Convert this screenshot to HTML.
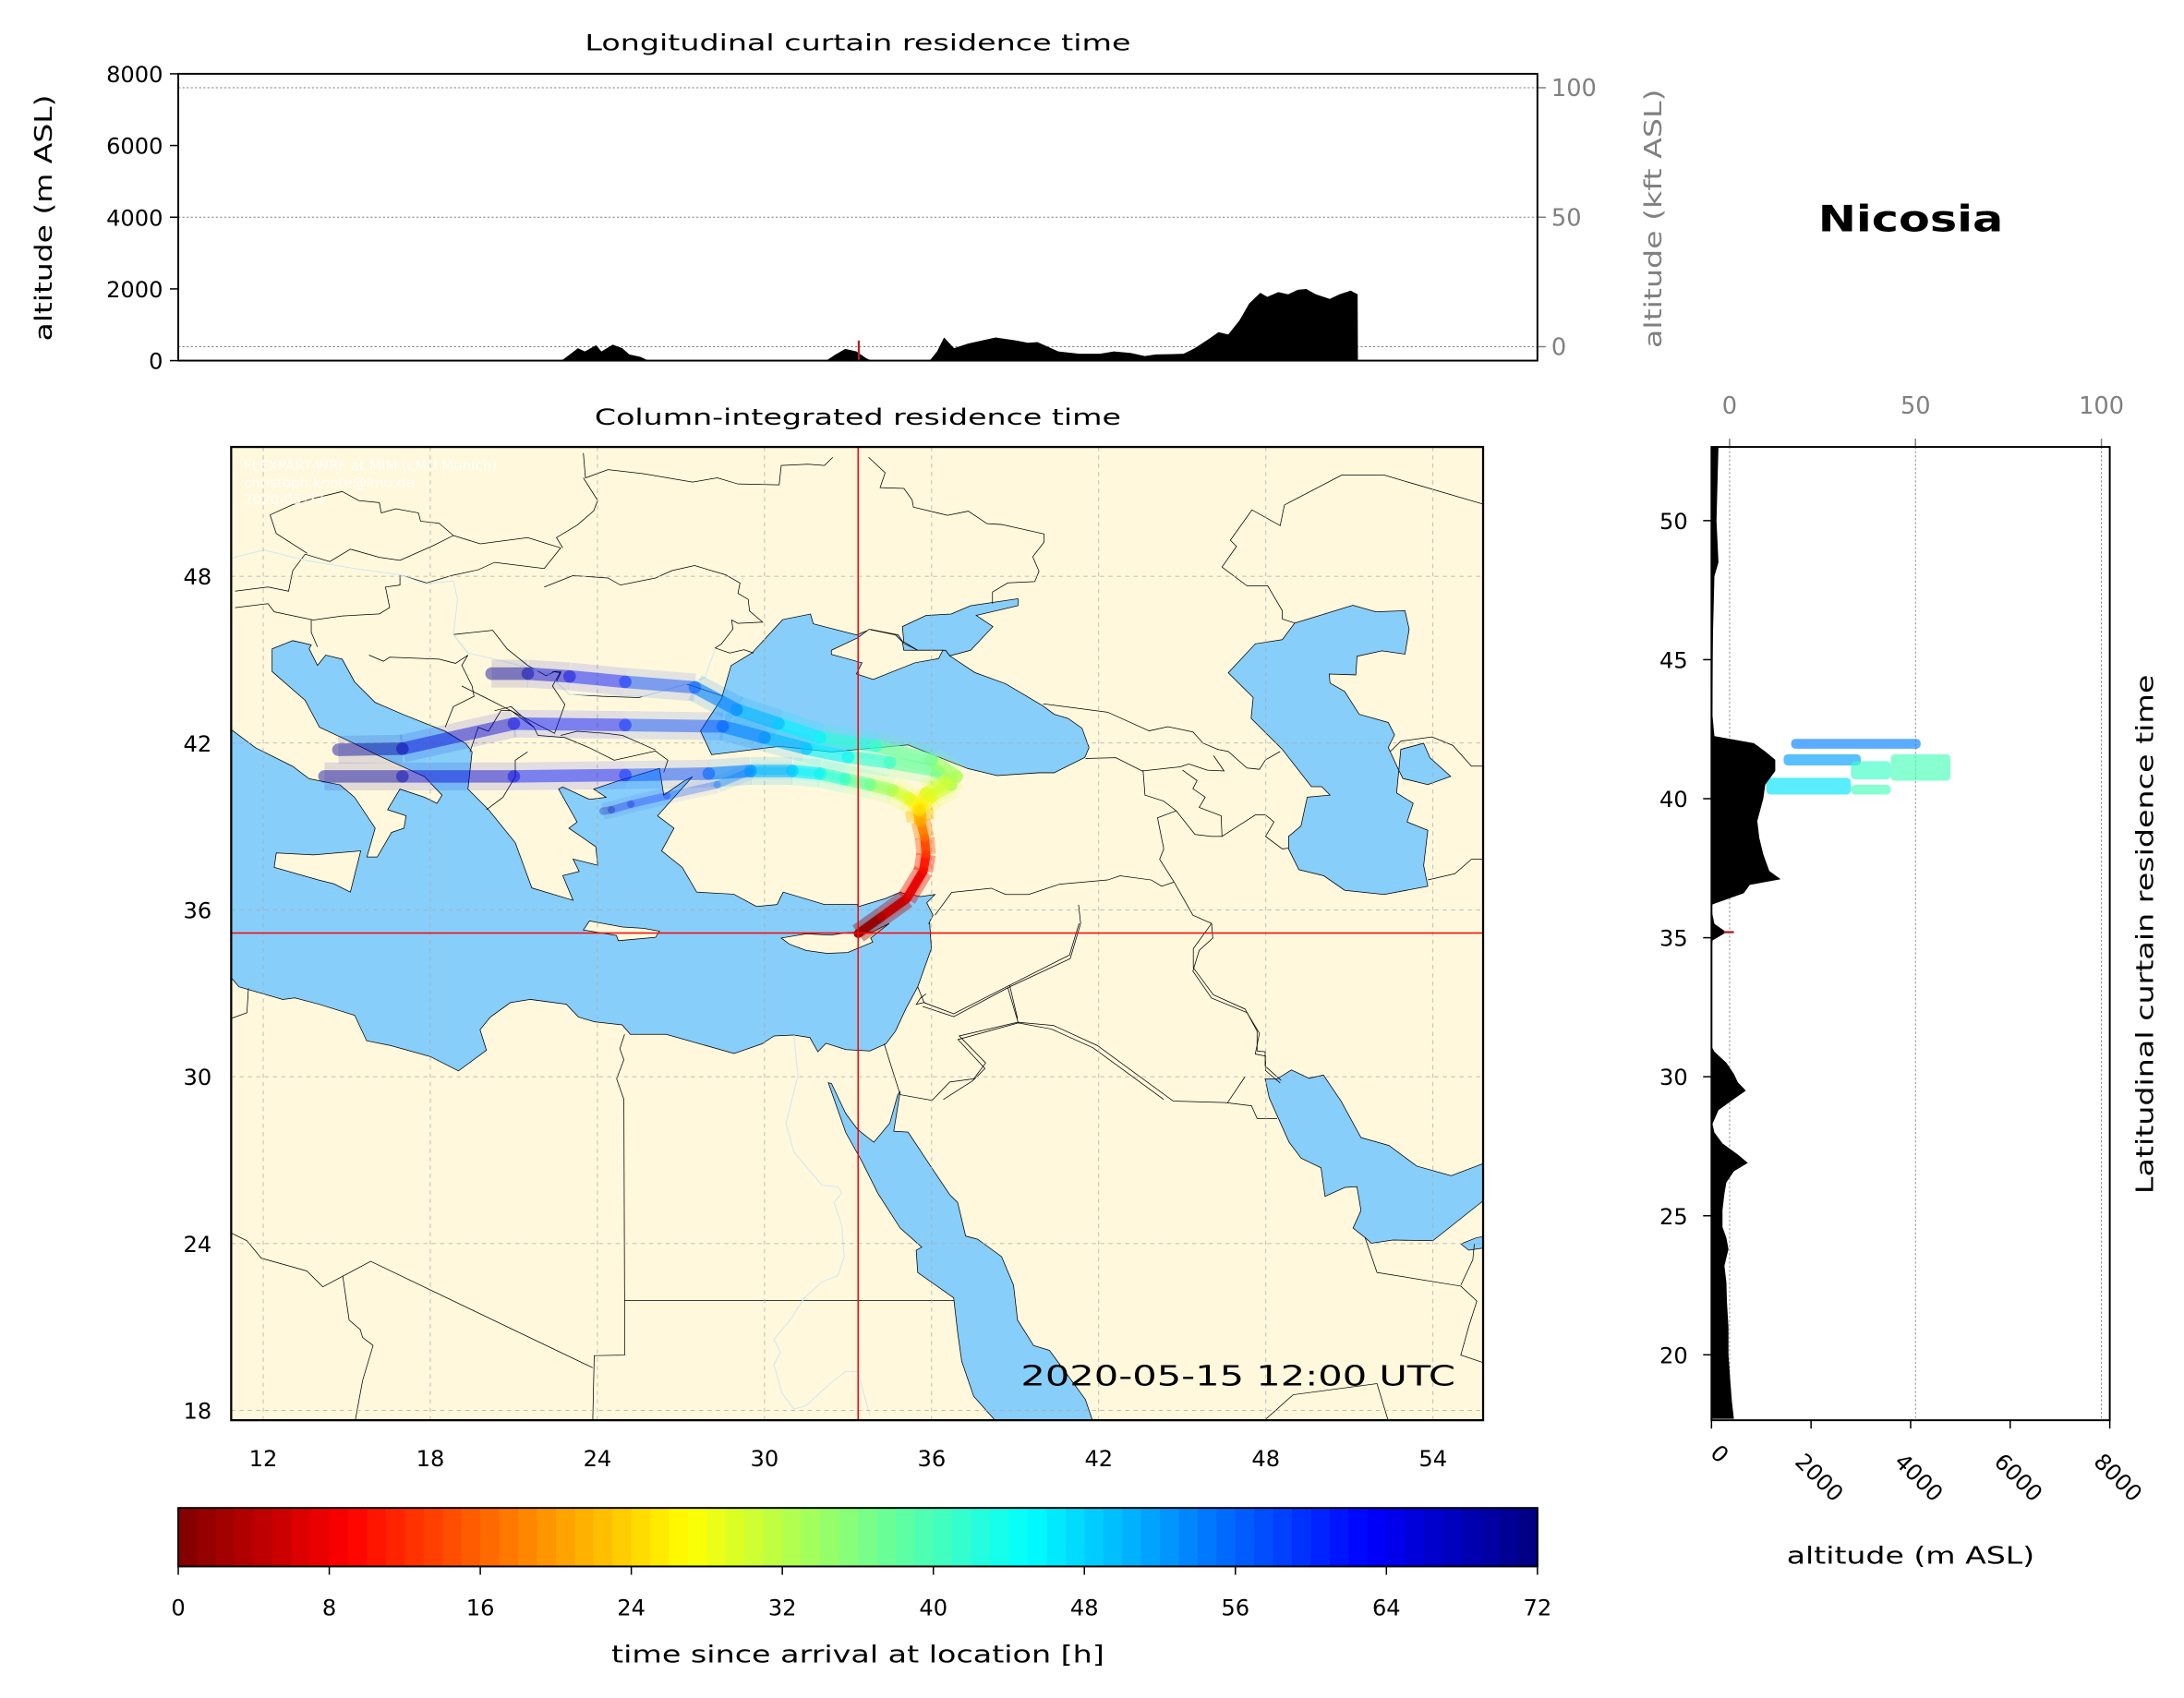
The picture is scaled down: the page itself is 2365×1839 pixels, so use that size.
<!DOCTYPE html>
<html><head><meta charset="utf-8">
<style>
html,body{margin:0;padding:0;background:#fff;}
svg{display:block;font-family:"DejaVu Sans","Liberation Sans",sans-serif;}
</style></head>
<body>
<svg id="fig" xmlns="http://www.w3.org/2000/svg" width="2365" height="1839" viewBox="0 0 1568.3 1219.5">
<defs>
<clipPath id="mapclip"><rect x="166" y="321" width="899" height="699"/></clipPath>
<clipPath id="rpclip"><rect x="1229" y="321" width="286" height="699"/></clipPath>
<clipPath id="topclip"><rect x="128" y="53" width="976" height="206"/></clipPath>
</defs>
<rect x="0" y="0" width="1568.3" height="1219.5" fill="#fff"/>
<text x="616" y="36" font-size="16" text-anchor="middle" textLength="392" lengthAdjust="spacingAndGlyphs">Longitudinal curtain residence time</text>
<text x="616" y="305" font-size="16" text-anchor="middle" textLength="378" lengthAdjust="spacingAndGlyphs">Column-integrated residence time</text>
<text x="1372" y="166" font-size="26" font-weight="bold" text-anchor="middle" textLength="133" lengthAdjust="spacingAndGlyphs">Nicosia</text>
<text transform="translate(37,156.5) rotate(-90)" font-size="17" text-anchor="middle" textLength="177" lengthAdjust="spacingAndGlyphs">altitude (m ASL)</text>
<text transform="translate(1193,157) rotate(-90)" font-size="17" fill="#808080" text-anchor="middle" textLength="186" lengthAdjust="spacingAndGlyphs">altitude (kft ASL)</text>
<text transform="translate(1546,671) rotate(-90)" font-size="17" text-anchor="middle" textLength="373" lengthAdjust="spacingAndGlyphs">Latitudinal curtain residence time</text>
<text x="1372" y="1123" font-size="17" text-anchor="middle" textLength="178" lengthAdjust="spacingAndGlyphs">altitude (m ASL)</text>
<text x="616" y="1194" font-size="17" text-anchor="middle" textLength="354" lengthAdjust="spacingAndGlyphs">time since arrival at location [h]</text>
<g id="topPanel"></g>
<g id="mapPanel"></g>
<g id="rpPanel"></g>
<g id="cbPanel"></g>
</svg>
<script>
// ---------- data ----------
const lonTicks=[12,18,24,30,36,42,48,54];
const latTicks=[18,24,30,36,42,48];
const altTicks=[0,2000,4000,6000,8000];
const kftTicks=[0,50,100];
const rpLatTicks=[20,25,30,35,40,45,50];
const cbTicks=[0,8,16,24,32,40,48,56,64,72];
const stationLon=33.36;
const stationLat=35.17;
const topLon=[10.85,23.5,23.6,24.07,24.3,24.67,24.85,25.22,25.54,25.77,26.14,26.37,32.2,32.31,32.59,32.91,33.28,33.6,33.74,35.6,35.72,35.95,36.18,36.51,36.97,37.89,38.58,38.95,39.27,39.96,40.65,41.34,41.8,42.35,42.82,43.18,44.1,44.47,44.93,45.26,45.58,45.95,46.27,46.64,46.87,47.24,47.56,47.88,48.16,48.48,48.94,49.26,49.63,49.86,49.87,55.8];
const topAlt=[0,0,43,344,258,430,258,447,344,172,103,17,0,17,172,327,258,69,17,0,17,258,645,344,473,645,559,499,516,258,189,189,258,215,129,172,189,344,602,791,731,1118,1591,1892,1780,1909,1849,1978,1995,1849,1720,1849,1952,1849,0,0];
const rpLat=[52.65,50,48.5,48,46,45,43,42.25,42.0,41.7,41.4,41.0,40.5,40.0,39.2,38.6,38.0,37.4,37.1,36.9,36.6,36.2,36.0,35.5,35.2,34.9,34.5,31.1,30.9,30.5,30.1,29.8,29.5,29.2,28.8,28.3,28.0,27.6,27.2,26.9,26.6,26.2,25.8,25.2,24.6,24.2,23.8,23.2,22.6,21.9,21,20,19,18.3,17.7];
const rpAlt=[140,100,140,60,30,25,20,60,850,1080,1280,1280,1080,1040,920,960,1040,1160,1390,770,650,20,0,60,300,20,0,0,60,300,450,530,690,450,140,20,60,220,530,730,450,300,260,220,220,300,340,260,300,310,340,340,380,410,450];
const curtLatLo=[41.8,41.2,40.65,40.7,40.15,40.15];
const curtLatHi=[42.15,41.6,41.6,41.35,40.75,40.5];
const curtAltLo=[1600,1450,3600,2800,1100,2800];
const curtAltHi=[4200,3000,4800,3600,2800,3600];
const curtTime=[54,52,40,41,47,40];
const trajTime=[0,3,6,9,12,16,20,24,28,32,36,40,44,48,52,56,60,64,68,72];
const traj1Lon=[33.36,34.2,35.1,35.7,35.8,35.75,35.6,35.55,35.2,34.6,33.8,32.9,32.0,31.0,29.5,28.0,25.0,21.0,17.0,14.2];
const traj1Lat=[35.15,35.75,36.4,37.4,38.0,38.6,39.2,39.6,40.0,40.3,40.5,40.7,40.9,41.0,41.0,40.9,40.85,40.8,40.8,40.8];
const traj2Lon=[33.36,34.2,35.1,35.7,35.8,35.75,35.6,35.55,36.0,36.7,36.2,34.5,33.0,31.5,30.0,28.5,25.0,21.0,17.0,14.7];
const traj2Lat=[35.15,35.75,36.4,37.4,38.0,38.6,39.2,39.6,40.1,40.5,41.0,41.3,41.5,41.8,42.2,42.6,42.65,42.7,41.8,41.76];
const traj3Lon=[33.36,34.2,35.1,35.7,35.8,35.75,35.6,35.55,35.8,36.9,36.0,34.0,32.0,30.5,29.0,27.5,25.0,23.0,21.5,20.2];
const traj3Lat=[35.15,35.75,36.4,37.4,38.0,38.6,39.2,39.6,40.2,40.8,41.4,41.9,42.2,42.7,43.2,44.0,44.2,44.4,44.5,44.5];
const traj4Lon=[33.36,34.2,35.1,35.7,35.8,35.75,35.6,35.55,35.2,34.6,33.8,32.9,32.0,31.0,29.5,28.3,26.5,25.2,24.5,24.2];
const traj4Lat=[35.15,35.75,36.4,37.4,38.0,38.6,39.2,39.6,40.0,40.3,40.5,40.7,40.9,41.0,41.0,40.5,40.1,39.8,39.6,39.55];

// ---------- helpers ----------
const NS='http://www.w3.org/2000/svg';
function mk(tag,attrs,parent){const e=document.createElementNS(NS,tag);for(const k in attrs)e.setAttribute(k,attrs[k]);parent.appendChild(e);return e;}
function jet(v){v=Math.max(0,Math.min(1,v));const c=x=>Math.round(255*Math.max(0,Math.min(1,x)));return 'rgb('+c(1.5-Math.abs(4*v-3))+','+c(1.5-Math.abs(4*v-2))+','+c(1.5-Math.abs(4*v-1))+')';}
function timeColor(t){return jet(1-t/72);}
const mapX=lon=>166+(lon-10.85)*20;
const mapY=lat=>321+(52.65-lat)*19.97;
const topX=lon=>128+(lon-10.85)*21.71;
const topY=a=>259-a*0.02575;
const kftY=k=>249-k*1.86;
const rpX=a=>1229+a*0.03575;
const kftX=k=>1242+k*2.67;
const cbX=t=>128+t*976/72;
const FR={d:[0,0,1,1],a:[165.8,321,0.296,0.296],b:[596.8,321,0.2986,0.2976],c:[165.8,663.1,0.5735,0.228]};
function pts(pieces){let out=[];pieces.forEach(p=>{const f=FR[p[0]],a=p[1];for(let i=0;i<a.length;i+=2)out.push((f[0]+a[i]*f[2]).toFixed(1)+','+(f[1]+a[i+1]*f[3]).toFixed(1));});return out.join(' ');}
const LAND='#fff8dc',WATER='#87cefa';

const topG=document.getElementById('topPanel');
const mapG=document.getElementById('mapPanel');
const rpG=document.getElementById('rpPanel');
const cbG=document.getElementById('cbPanel');

// ---------- top panel ----------
kftTicks.forEach(k=>{
 const g=mk('line',{x1:128,x2:1104,y1:kftY(k),y2:kftY(k),stroke:'#808080','stroke-width':0.6,'stroke-dasharray':'1.5,1.5'},topG);
 
 
 const t=mk('line',{x1:1104,x2:1110,y1:kftY(k),y2:kftY(k),stroke:'#808080','stroke-width':1},topG);
 
 
 const l=mk('text',{x:1114,y:kftY(k)+6,'font-size':17,fill:'#808080'},topG);
 l.textContent=k;
 
 
});
let d='M'+topX(topLon[0])+','+topY(0);
for(let i=0;i<topLon.length;i++)d+=' L'+topX(topLon[i]).toFixed(1)+','+topY(topAlt[i]).toFixed(1);
d+=' L'+topX(topLon[topLon.length-1])+','+topY(0)+' Z';
const tf=mk('path',{d:d,fill:'#000','clip-path':'url(#topclip)'},topG);


const tm=mk('line',{x1:topX(stationLon),x2:topX(stationLon),y1:topY(0),y2:topY(560),stroke:'#b22222','stroke-width':1.5},topG);


const tframe=mk('rect',{x:128,y:53,width:976,height:206,fill:'none',stroke:'#000','stroke-width':1.3},topG);


altTicks.forEach(v=>{
 const t=mk('line',{x1:122,x2:128,y1:topY(v),y2:topY(v),stroke:'#000','stroke-width':1},topG);
 
 
 const l=mk('text',{x:117,y:topY(v)+6,'font-size':16,'text-anchor':'end'},topG);
 l.textContent=v;
 
 
});

// ---------- map ----------
const mg=mk('g',{'clip-path':'url(#mapclip)'},mapG);


const bg=mk('rect',{x:166,y:321,width:899,height:699,fill:LAND},mg);


const seas=[
 ['mediterranean-sea',[['a',[-5,685,0,685,60,730,150,775,190,805,265,820,300,850,350,925,330,995,355,995,390,935,420,925,425,895,380,880,410,830,470,850,500,865,512,845,470,800,360,750,300,720,215,680,180,615,100,545,100,490,150,470,195,480,190,490,210,530,230,505,270,515,300,570,350,620,420,650,520,690,570,720,585,740,575,830,625,880,690,960,730,1070,830,1100,805,1040,845,1030,830,1000,890,1015,885,970,820,925,840,910,795,830,805,825,870,855,910,850,880,830,940,810,1040,780,1050,845,1100,810,1120,800,1035,895,1075,925,1045,980,1095,1020,1130,1080,1220,1085,1275,1115,1325,1110,1340,1080,1440,1110,1520,1110]],['b',[64,1110,130,1090,165,1075,215,1085,250,1080,230,1100,245,1130,235,1150]],['c',[875,0,877,80,860,200,845,270,832,340,820,380,800,402,770,398,745,378,735,405,725,360,705,352,680,355,665,380,630,410,545,350,500,350,490,320,455,310,435,295,420,255,375,240,350,250,325,295,312,335,320,400,285,465,250,420,200,385,170,370,155,290,110,255,80,235,65,240,10,200,0,170,-5,170]]]],
 ['black-sea',[['d',[518,502,525,478,540,469,562,445,582,441,584,448,615,456,625,452,645,456,649,462,659,467,679,467,682,471,700,483,722,491,749,507,757,513,767,516,777,523,782,537,779,544,757,555,746,555,716,557,695,552,652,535,597,540,560,536,511,542,503,525]]]],
 ['sea-of-azov',[['d',[648,450,665,442,683,441,697,435,731,430,731,435,701,442,713,450,697,467,682,471,679,467,659,467,649,461]]]],
 ['caspian-sea',[['b',[1115,425,1255,382,1310,398,1380,395,1390,440,1380,500,1325,492,1265,505,1262,550,1198,548,1200,570,1235,590,1270,645,1340,665,1355,695,1340,725,1365,780,1375,800,1435,815,1490,795,1440,750,1425,715,1370,730,1360,835,1400,860,1385,905,1435,925,1425,1010,1435,1060,1330,1080,1235,1070,1185,1035,1125,1020,1100,970,1100,940,1130,915,1145,845,1200,840,1180,820,1155,820,1085,730,1010,655,1015,605,955,545,1020,475,1085,465]]]],
 ['persian-gulf',[['c',[1295,490,1310,490,1328,462,1350,488,1368,478,1390,560,1415,675,1450,700,1485,765,1528,795,1575,750,1575,860,1505,1000,1455,998,1428,1008,1420,990,1405,960,1415,905,1410,830,1395,832,1370,860,1365,770,1340,740,1325,690,1300,550]]]],
 ['red-sea',[['c',[748,502,752,505,770,600,785,650,805,690,825,630,835,540,838,530,830,655,848,658,880,780,900,855,910,880,920,985,935,995,965,1050,980,1140,985,1250,1005,1330,1025,1345,1070,1500,1080,1575,960,1575,930,1490,915,1380,910,1290,905,1180,860,1100,858,1030,865,1020,838,960,810,850,790,750,770,660]]]],
 ['arabian-sea-corner',[['c',[1540,1010,1560,990,1575,985,1575,1020,1550,1030]]]]
];
seas.forEach(s=>{
 const p=mk('polygon',{points:pts(s[1]),fill:WATER,stroke:'#000','stroke-width':0.5},mg);
 
 
});
const islands=[
 ['sicily',[['a',[110,985,200,990,315,980,290,1080,250,1060,210,1050,105,1020]]]],
 ['crete',[['a',[870,1150,855,1172,935,1185,940,1198,1030,1190,1040,1175,1000,1168,950,1165]]]],
 ['cyprus',[['b',[-120,1185,-60,1175,0,1178,40,1172,100,1170,140,1150,95,1185,100,1195,40,1220,-10,1222,-60,1215,-100,1200]]]],
 ['crimea',[['d',[597,467,616,458,624,452,643,456,648,461,649,467,677,467,674,473,657,476,627,488,615,484,619,476,597,470]]]]
];
islands.forEach(s=>{
 const p=mk('polygon',{points:pts(s[1]),fill:LAND,stroke:'#000','stroke-width':0.5},mg);
 
 
});
const borders=[
 ['a',[760,340,830,312,915,318,945,335,1030,318,1070,300,1125,288,1200,310,1235,330,1230,355,1255,370,1258,398,1290,425,1230,428,1215,420,1218,442,1190,478,1175,488,1210,500,1245,492,1268,500]],
 ['a',[780,545,800,548,790,570,820,600,900,605,990,608,1105,575,1195,605]],
 ['a',[640,640,680,630,735,680,745,700,810,705,870,730,930,760,1030,738,1060,760,1050,790]],
 ['a',[800,700,840,690,910,695,950,700,1030,735]],
 ['a',[180,260,240,278,290,248,360,268,410,275,490,240,540,215,605,235,720,220,800,245,760,295,640,280,600,298,535,312,475,330,410,310,410,335,375,340,385,390,360,405,270,410,200,420,105,400,90,380,10,390]],
 ['a',[335,505,370,520,385,510,505,515,545,525,575,505,560,530,585,580,590,605,540,630,520,680]],
 ['a',[560,580,630,615,660,630,785,695,810,625,780,580,800,545,785,545,765,555,720,530,670,490,635,445,540,455,575,500]],
 ['a',[95,165,150,140,200,125,270,108,310,130,360,135,365,160,400,150,455,160,460,180,505,185,540,215]],
 ['a',[95,165,110,210,185,258]],
 ['a',[10,350,90,340,140,350,150,300,180,260]],
 ['a',[195,420,195,450,210,485]],
 ['a',[855,15,860,75,915,55,1000,65,1120,85,1180,75,1230,90,1330,92,1335,45,1400,42,1440,45,1460,25]],
 ['a',[855,75,890,130,880,155,840,190,790,220,805,245]],
 ['a',[580,740,600,680,625,690,655,640,680,640,720,670,735,680]],
 ['a',[620,880,660,850,690,800,690,760,720,740]],
 ['b',[90,25,130,62,118,98,175,100,195,128,198,145,280,165,330,155,375,185,410,187,512,210,512,230,485,265,500,300,490,325,425,328,388,350,388,378]],
 ['b',[510,620,665,640,765,685,810,675,870,688,895,715,930,730,955,735,1000,775,1030,778,1045,755,1080,735]],
 ['b',[612,752,685,750,748,782,840,772,860,765,905,780,945,782,920,745]],
 ['b',[750,780,755,840,800,855,830,878,785,895,800,970,790,995,825,1050]],
 ['b',[830,878,875,935,915,940,940,940,938,890,885,870,900,845,870,825,880,805,845,780]],
 ['b',[1100,968,1085,970,1045,940,1065,905,1045,888,1020,888,940,940]],
 ['b',[1115,425,1085,415,1085,395,1050,335,1000,335,940,290,975,240,960,225,1012,152,1080,190,1090,140,1228,68,1330,68,1575,140]],
 ['b',[250,1130,290,1075,385,1065,420,1080,475,1080,550,1055,665,1045,695,1035,770,1045,795,1060,825,1050]],
 ['b',[595,1105,600,1150,575,1235,425,1305,295,1375,220,1350]],
 ['b',[425,1305,450,1390,305,1430,370,1500,340,1530,270,1575]],
 ['b',[450,1390,530,1405,630,1450,800,1575]],
 ['b',[825,1050,870,1130,915,1150,918,1185,885,1215,870,1265,915,1330,1000,1365,1030,1415,1020,1465,1045,1470,1045,1505,1080,1535]],
 ['b',[1345,735,1370,710,1445,700,1495,720,1540,770,1575,770]],
 ['b',[1435,1045,1500,1030,1540,995,1575,995]],
 ['b',[225,1340,205,1345,215,1330,228,1320]],
 ['c',[493,350,487,395,492,430,483,490,492,555,493,1188,493,1360,455,1362,453,1575]],
 ['c',[493,1188,905,1188]],
 ['c',[175,1065,453,1400]],
 ['c',[0,975,20,1000,38,1055,95,1095,115,1145,175,1065]],
 ['c',[140,1110,148,1250,162,1280,165,1305,178,1330,165,1440,155,1575]],
 ['c',[0,300,20,282,22,205]],
 ['c',[818,380,838,540,878,558,900,500,930,490,945,440,912,355,985,312,1030,322,1085,385,1180,560,1245,565,1278,575,1285,615,1310,615]],
 ['c',[985,300,975,195,1050,100,1062,0]],
 ['c',[860,200,868,250,905,285,975,195]],
 ['c',[1228,0,1205,80,1205,140,1230,225,1270,270,1285,340,1285,402,1295,405,1295,450,1315,495]],
 ['c',[1270,483,1248,565]],
 ['c',[1420,990,1435,1100,1540,1143,1560,1190,1550,1270,1540,1360,1575,1390]],
 ['c',[1540,1140,1555,1060,1557,1010]],
 ['c',[1290,1575,1330,1485,1435,1450,1450,1575]]
];
borders.forEach(b=>{
 const p=mk('polyline',{points:pts([b]),fill:'none',stroke:'#000','stroke-width':0.5},mg);
 
 
});
const nile=mk('polyline',{points:pts([['c',[705,352,710,480,695,630,705,720,740,825,760,830,765,850,755,880,765,950,768,1050,760,1110,740,1130,718,1180,700,1250,680,1310,688,1350,680,1390,690,1480,705,1530,720,1520,750,1450,770,1412,785,1412,800,1550]]]),fill:'none',stroke:'#cfe9f3','stroke-width':0.7},mg);


const danube=mk('polyline',{points:pts([['a',[0,270,80,250,180,275,300,295,410,310,470,332,540,325,550,370,540,455,575,500,640,515,720,535,770,550,820,600,1000,605,1105,575,1150,560,1160,530,1175,490]]]),fill:'none',stroke:'#cfe9f3','stroke-width':0.7},mg);


lonTicks.forEach(v=>{
 const g=mk('line',{x1:mapX(v),x2:mapX(v),y1:321,y2:1020,stroke:'#aaa','stroke-width':0.5,'stroke-dasharray':'3,3'},mg);
 
 
});
latTicks.forEach(v=>{
 const g=mk('line',{x1:166,x2:1065,y1:mapY(v),y2:mapY(v),stroke:'#aaa','stroke-width':0.5,'stroke-dasharray':'3,3'},mg);
 
 
});
// plume
const trajs=[[traj1Lon,traj1Lat],[traj2Lon,traj2Lat],[traj3Lon,traj3Lat],[traj4Lon,traj4Lat]];
[[20,0.15,'butt'],[9,0.6,'round']].forEach(pass=>{
 trajs.forEach((tr,ti)=>{
  for(let i=0;i<trajTime.length-1;i++){
   const tm=(trajTime[i]+trajTime[i+1])/2;
   const w=(ti===3?pass[0]*0.6:pass[0])*(tm<20?0.7:1);
   const op=pass[1]*(tm>56?0.75:1)*(ti===3?0.6:1);
   const s=mk('line',{x1:mapX(tr[0][i]).toFixed(1),y1:mapY(tr[1][i]).toFixed(1),x2:mapX(tr[0][i+1]).toFixed(1),y2:mapY(tr[1][i+1]).toFixed(1),stroke:timeColor(tm),'stroke-width':w,'stroke-linecap':pass[2],'stroke-opacity':op},mg);
   
   
  }
 });
});
const vl=mk('line',{x1:mapX(stationLon),x2:mapX(stationLon),y1:321,y2:1020,stroke:'#ff0000','stroke-width':1},mg);


const hl=mk('line',{x1:166,x2:1065,y1:mapY(stationLat),y2:mapY(stationLat),stroke:'#ff0000','stroke-width':1},mg);


['FLEXPART-WRF at MIM (LMU Munich)','christoph.knote@lmu.de','2020-05-27'].forEach((s,i)=>{
 const t=mk('text',{x:175,y:338+i*12,'font-size':10,fill:'#fff','fill-opacity':0.85},mg);
 t.textContent=s;
 
 
});
const dt=mk('text',{x:1045,y:995,'font-size':20,'text-anchor':'end',textLength:312,lengthAdjust:'spacingAndGlyphs'},mg);
dt.textContent='2020-05-15 12:00 UTC';


const mf=mk('rect',{x:166,y:321,width:899,height:699,fill:'none',stroke:'#000','stroke-width':1.5},mapG);


lonTicks.forEach(v=>{
 const l=mk('text',{x:mapX(v),y:1053,'font-size':16,'text-anchor':'middle'},mapG);
 l.textContent=v;
 
 
});
latTicks.forEach(v=>{
 const l=mk('text',{x:152,y:mapY(v)+6,'font-size':16,'text-anchor':'end'},mapG);
 l.textContent=v;
 
 
});

// ---------- right panel ----------
kftTicks.forEach(k=>{
 const g=mk('line',{x1:kftX(k),x2:kftX(k),y1:321,y2:1020,stroke:'#808080','stroke-width':0.6,'stroke-dasharray':'1.5,1.5'},rpG);
 
 
 const t=mk('line',{x1:kftX(k),x2:kftX(k),y1:315,y2:321,stroke:'#808080','stroke-width':1},rpG);
 
 
 const l=mk('text',{x:kftX(k),y:297,'font-size':17,fill:'#808080','text-anchor':'middle'},rpG);
 l.textContent=k;
 
 
});
const rg=mk('g',{'clip-path':'url(#rpclip)'},rpG);


for(let i=0;i<curtLatLo.length;i++){
 const r=mk('rect',{x:rpX(curtAltLo[i]).toFixed(1),y:mapY(curtLatHi[i]).toFixed(1),width:(rpX(curtAltHi[i])-rpX(curtAltLo[i])).toFixed(1),height:(mapY(curtLatLo[i])-mapY(curtLatHi[i])).toFixed(1),rx:3,fill:timeColor(curtTime[i]),'fill-opacity':0.65},rg);
 
 
}
let rd='M'+rpX(0)+','+mapY(rpLat[0]);
for(let i=0;i<rpLat.length;i++)rd+=' L'+rpX(rpAlt[i]).toFixed(1)+','+mapY(rpLat[i]).toFixed(1);
rd+=' L'+rpX(0)+','+mapY(rpLat[rpLat.length-1])+' Z';
const rt=mk('path',{d:rd,fill:'#000'},rg);


const rm=mk('line',{x1:rpX(250),x2:rpX(450),y1:mapY(35.2),y2:mapY(35.2),stroke:'#b22222','stroke-width':1.5},rg);


const rf=mk('rect',{x:1229,y:321,width:286,height:699,fill:'none',stroke:'#000','stroke-width':1.3},rpG);


rpLatTicks.forEach(v=>{
 const t=mk('line',{x1:1223,x2:1229,y1:mapY(v),y2:mapY(v),stroke:'#000','stroke-width':1},rpG);
 
 
 const l=mk('text',{x:1212,y:mapY(v)+6,'font-size':16,'text-anchor':'end'},rpG);
 l.textContent=v;
 
 
});
altTicks.forEach(v=>{
 const t=mk('line',{x1:rpX(v),x2:rpX(v),y1:1020,y2:1026,stroke:'#000','stroke-width':1},rpG);
 
 
 const l=mk('text',{transform:'translate('+(rpX(v)+2).toFixed(1)+','+(v===0?1048:1065)+') rotate(45)','font-size':16,'text-anchor':'middle'},rpG);
 l.textContent=v;
 
 
});

// ---------- colorbar ----------
for(let i=0;i<72;i++){
 const r=mk('rect',{x:cbX(i).toFixed(2),y:1083,width:(976/72+0.6).toFixed(2),height:42,fill:timeColor(i+0.5)},cbG);
 
 
}
const cf=mk('rect',{x:128,y:1083,width:976,height:42,fill:'none',stroke:'#000','stroke-width':1.3},cbG);


cbTicks.forEach(v=>{
 const t=mk('line',{x1:cbX(v),x2:cbX(v),y1:1125,y2:1131,stroke:'#000','stroke-width':1},cbG);
 
 
 const l=mk('text',{x:cbX(v),y:1160,'font-size':16,'text-anchor':'middle'},cbG);
 l.textContent=v;
 
 
});
</script>
</body></html>
